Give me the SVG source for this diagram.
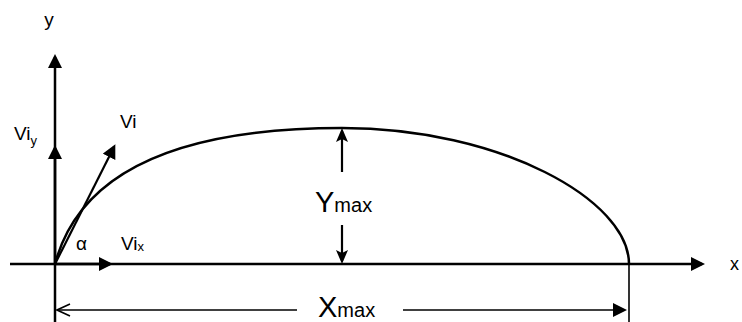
<svg xmlns="http://www.w3.org/2000/svg" width="742" height="322" viewBox="0 0 742 322">
<style>
.ax{stroke:#000;stroke-width:2.5;fill:none}
.cv{stroke:#000;stroke-width:2.5;fill:none}
.ar{stroke:#000;stroke-width:2.2;fill:none}
.dim{stroke:#000;stroke-width:1.6;fill:none}
text{font-family:"Liberation Sans",Arial,sans-serif;fill:#000}
</style>
<defs>
<marker id="tri" viewBox="0 0 14 14" markerWidth="14" markerHeight="14" refX="11" refY="7" orient="auto" markerUnits="userSpaceOnUse"><path d="M0,0 L14,7 L0,14 z" fill="#000"/></marker>
<marker id="barb" viewBox="0 0 14 12" markerWidth="14" markerHeight="12" refX="11" refY="6" orient="auto" markerUnits="userSpaceOnUse"><path d="M0,0 L14,6 L0,12 L3,6 z" fill="#000"/></marker>
<marker id="open" viewBox="0 0 15 14" markerWidth="15" markerHeight="14" refX="14" refY="7" orient="auto" markerUnits="userSpaceOnUse"><path d="M1,1 L14,7 L1,13" stroke="#000" stroke-width="1.6" fill="none"/></marker>
</defs>
<g id="connectors">
<line class="ax" x1="55" y1="322" x2="55" y2="57" marker-end="url(#tri)"/>
<line class="ax" x1="55" y1="264" x2="55" y2="148" marker-end="url(#tri)"/>
<line class="ax" x1="10" y1="264" x2="702" y2="264" marker-end="url(#tri)"/>
<line class="ax" x1="55" y1="264" x2="110" y2="264" marker-end="url(#tri)"/>
<line class="ar" x1="55" y1="264" x2="114" y2="147" marker-end="url(#tri)"/>
<line class="ar" x1="342" y1="172" x2="342" y2="131" marker-end="url(#barb)"/>
<line class="ar" x1="342" y1="225" x2="342" y2="261" marker-end="url(#barb)"/>
<line class="dim" x1="629" y1="264" x2="629" y2="322"/>
<line class="dim" x1="297" y1="310" x2="57" y2="310" marker-end="url(#open)"/>
<line class="dim" x1="403" y1="310" x2="624" y2="310" marker-end="url(#tri)"/>
</g>
<g id="trajectory">
<path class="cv" d="M55,264 C80,170 180,128 342,128 C500,128 629,200 629,264"/>
</g>
<g id="labels">
<text x="49" y="26" font-size="19" text-anchor="middle">y</text>
<text x="14" y="140" font-size="19">Vi<tspan font-size="13" dy="5">y</tspan></text>
<text x="120" y="128" font-size="19">Vi</text>
<text x="76" y="250" font-size="19">α</text>
<text x="121" y="250" font-size="19">Vi<tspan font-size="13" dy="1">x</tspan></text>
<text x="315" y="212" font-size="29">Y<tspan font-size="20">max</tspan></text>
<text x="318" y="317" font-size="29">X<tspan font-size="20">max</tspan></text>
<text x="730" y="270" font-size="18">x</text>
</g>
</svg>
